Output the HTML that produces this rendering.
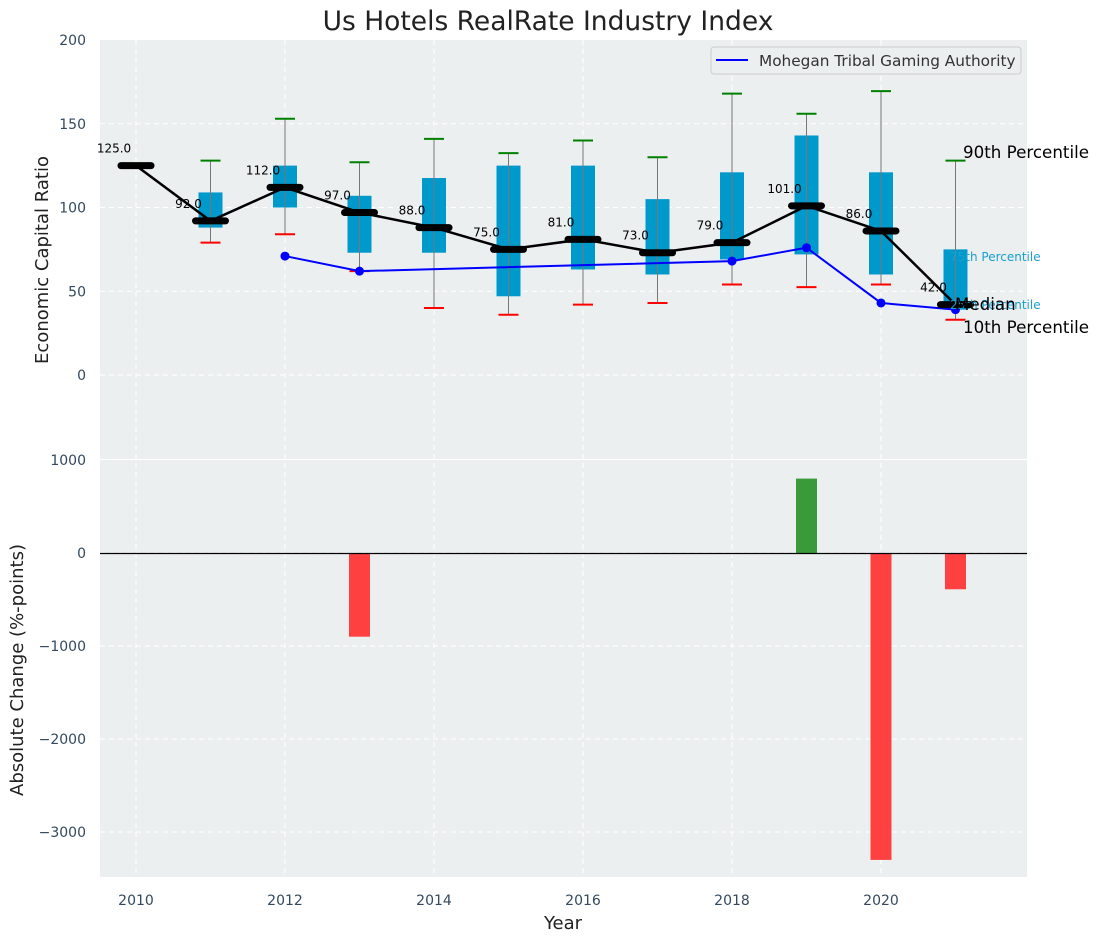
<!DOCTYPE html>
<html><head><meta charset="utf-8">
<style>
html,body{margin:0;padding:0;background:#fff;}
svg{display:block;font-family:"DejaVu Sans","Liberation Sans",sans-serif;}
</style></head>
<body>
<svg id="chart" width="1098" height="942" xmlns="http://www.w3.org/2000/svg">
<text x="548" y="30" text-anchor="middle" font-size="26.5" fill="#222">Us Hotels RealRate Industry Index</text>
<rect x="100" y="40" width="927" height="419" fill="#ebeff0"/>
<rect x="100" y="460" width="927" height="417" fill="#ebeff0"/>
<g id="gridG"></g>
<g id="topG"></g>
<g id="botG"></g>
<g id="axesG"></g>
<g>
<rect x="711" y="47" width="310" height="27" rx="3" fill="#ebeff0" stroke="#ccc"/>
<line x1="716" y1="60" x2="748" y2="60" stroke="#0000ff" stroke-width="2"/>
<text x="759" y="66" font-size="15.3" fill="#333">Mohegan Tribal Gaming Authority</text>
</g>
<text x="963" y="158" font-size="16.7" fill="#000">90th Percentile</text>
<text x="950" y="261" font-size="12" fill="#1a9fd0">75th Percentile</text>
<text x="950" y="309" font-size="12" fill="#1a9fd0">25th Percentile</text>
<text x="955" y="310" font-size="16.7" fill="#000">Median</text>
<text x="963" y="333" font-size="16.7" fill="#000">10th Percentile</text>
<text x="563" y="929" text-anchor="middle" font-size="18" fill="#222">Year</text>
<text transform="translate(48,260) rotate(-90)" text-anchor="middle" font-size="18" fill="#222">Economic Capital Ratio</text>
<text transform="translate(23,670) rotate(-90)" text-anchor="middle" font-size="18" fill="#222">Absolute Change (%-points)</text>
</svg>
<script>
const years=[2010,2011,2012,2013,2014,2015,2016,2017,2018,2019,2020,2021];
const medians=[125,92,112,97,88,75,81,73,79,101,86,42];
const q1=[null,88,100,73,73,47,63,60,69,72,60,39];
const q3=[null,109,125,107,117.6,125,125,105,121,143,121,75];
const p10=[null,79,84,62,40,36,42,43,54,52.5,54,33];
const p90=[null,128,153,127,141,132.5,140,130,168,156,169.5,128];
const compYears=[2012,2013,2018,2019,2020,2021];
const compValues=[71,62,68,76,43,39];
const changeYears=[2013,2019,2020,2021];
const changeValues=[-900,800,-3300,-390];
const topTicks=[0,50,100,150,200];
const bottomTicks=[-3000,-2000,-1000,0,1000];
const xTicks=[2010,2012,2014,2016,2018,2020];

const NS="http://www.w3.org/2000/svg";
const X=y=>136+(y-2010)*74.5;
const YT=v=>375-v*1.675;
const YB=v=>553-v*0.093;
function mk(p,tag,a){const e=document.createElementNS(NS,tag);for(const k in a)e.setAttribute(k,a[k]);p.appendChild(e);return e;}
const gridG=document.getElementById('gridG'),topG=document.getElementById('topG'),botG=document.getElementById('botG'),axesG=document.getElementById('axesG');

xTicks.forEach(t=>{
  let l=mk(gridG,'line',{x1:X(t),x2:X(t),y1:40,y2:877,stroke:'#fff','stroke-dasharray':'5,4','stroke-width':1});
  
  
  let tx=mk(axesG,'text',{x:X(t),y:905,'text-anchor':'middle','font-size':14,fill:'#34495e'});tx.textContent=t;
  
  
});
topTicks.forEach(t=>{
  if(t<200){let l=mk(gridG,'line',{x1:100,x2:1027,y1:YT(t),y2:YT(t),stroke:'#fff','stroke-dasharray':'5,4'});
  
  }
  let tx=mk(axesG,'text',{x:86,y:YT(t)+5,'text-anchor':'end','font-size':14,fill:'#34495e'});tx.textContent=t;
  
  
});
bottomTicks.forEach(t=>{
  if(t<1000){let l=mk(gridG,'line',{x1:100,x2:1027,y1:YB(t),y2:YB(t),stroke:'#fff','stroke-dasharray':'5,4'});
  
  }
  let tx=mk(axesG,'text',{x:86,y:YB(t)+5,'text-anchor':'end','font-size':14,fill:'#34495e'});tx.textContent=(t<0?'\u2212'+(-t):t);
  
  
});

years.forEach((y,i)=>{
  const cx=X(y);
  if(q1[i]!=null){
    let b=mk(topG,'rect',{x:cx-12,y:YT(q3[i]),width:24,height:YT(q1[i])-YT(q3[i]),fill:'#0099cc'});
    
    
    let w=mk(topG,'line',{x1:cx,x2:cx,y1:YT(p90[i]),y2:YT(p10[i]),stroke:'#777','stroke-width':1});
    
    
    let h=mk(topG,'line',{x1:cx-10,x2:cx+10,y1:YT(p90[i]),y2:YT(p90[i]),stroke:'green','stroke-width':2});
    
    
    let lo=mk(topG,'line',{x1:cx-10,x2:cx+10,y1:YT(p10[i]),y2:YT(p10[i]),stroke:'red','stroke-width':2});
    
    
  }
});
let cp=mk(topG,'polyline',{points:compYears.map((y,i)=>X(y)+','+YT(compValues[i])).join(' '),fill:'none',stroke:'#0000ff','stroke-width':2});


compYears.forEach((y,i)=>{
  let c=mk(topG,'circle',{cx:X(y),cy:YT(compValues[i]),r:4.5,fill:'#0000ff'});
  
  
});
let ml=mk(topG,'polyline',{points:years.map((y,i)=>X(y)+','+YT(medians[i])).join(' '),fill:'none',stroke:'#000','stroke-width':2.5});


years.forEach((y,i)=>{
  const cx=X(y);
  let m=mk(topG,'line',{x1:cx-15,x2:cx+15,y1:YT(medians[i]),y2:YT(medians[i]),stroke:'#000','stroke-width':7,'stroke-linecap':'round'});
  
  
  let t=mk(topG,'text',{x:cx-22,y:YT(medians[i])-13,'text-anchor':'middle','font-size':12,fill:'#000'});t.textContent=medians[i].toFixed(1);
  
  
});
changeYears.forEach((y,i)=>{
  const v=changeValues[i];
  let r=mk(botG,'rect',{x:X(y)-10.5,y:Math.min(YB(v),YB(0)),width:21,height:Math.abs(YB(v)-YB(0)),fill:v>=0?'#3a9a3a':'#ff4040'});
  
  
});
let z=mk(botG,'line',{x1:100,x2:1027,y1:YB(0)+0.5,y2:YB(0)+0.5,stroke:'#000','stroke-width':1.2});


</script>
</body></html>
